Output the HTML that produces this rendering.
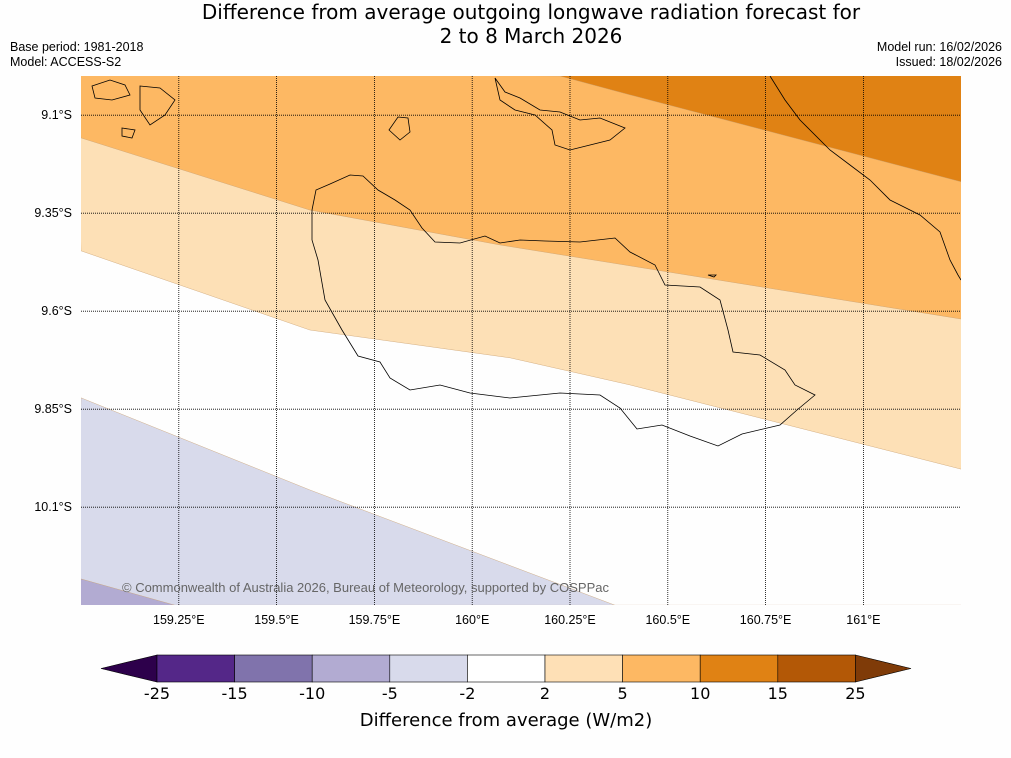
<!DOCTYPE html>
<html><head><meta charset="utf-8"><style>
body{margin:0;background:#fefefe;font-family:"Liberation Sans","DejaVu Sans",sans-serif}
#wrap{position:relative;width:1011px;height:758px;overflow:hidden}
.t{position:absolute;font-size:12px;color:#000}
</style></head><body>
<div id="wrap">
<div class="t" style="left:0;width:1062px;top:0px;text-align:center;font-family:'DejaVu Sans',sans-serif;font-size:20px;line-height:24px">Difference from average outgoing longwave radiation forecast for<br>2 to 8 March 2026</div>
<div class="t" style="left:10px;top:40px;font-size:12.5px">Base period: 1981-2018</div>
<div class="t" style="left:10px;top:55px;font-size:12.5px">Model: ACCESS-S2</div>
<div class="t" style="right:9px;top:40px;text-align:right;font-size:12.5px">Model run: 16/02/2026</div>
<div class="t" style="right:9px;top:55px;text-align:right;font-size:12.5px">Issued: 18/02/2026</div>
<svg id="svg" width="1011" height="758" style="position:absolute;left:0;top:0"></svg>
</div>
<script>
const lonTicks=[159.25,159.5,159.75,160,160.25,160.5,160.75,161];
const latTicks=[9.1,9.35,9.6,9.85,10.1];
const darkLower=[[160.224,9.0],[160.403,9.048],[161.25,9.27]];
const orangeLower=[[159.0,9.158],[159.585,9.342],[160.071,9.431],[161.25,9.62]];
const lightLower=[[159.0,9.446],[159.585,9.648],[160.097,9.719],[160.403,9.788],[161.25,10.003]];
const lavUpper=[[159.0,9.821],[159.585,10.056],[160.365,10.35]];
const purpleUpper=[[159.0,10.283],[159.24,10.35]];
const cbLevels=["-25","-15","-10","-5","-2","2","5","10","15","25"];
const cbColors=["#542788","#8073ac","#b2abd2","#d8daeb","#ffffff","#fee0b6","#fdb863","#e08214","#b35806"];
const ns="http://www.w3.org/2000/svg",svg=document.getElementById('svg');
const X0=81,X1=961,Y0=76,Y1=605;
const xS=lon=>X0+(lon-159)*391.2, yS=lat=>Y0+(lat-9.0)*392;
function el(t,a,p){const e=document.createElementNS(ns,t);for(const k in a)e.setAttribute(k,a[k]);(p||svg).appendChild(e);return e;}
const clip=el('clipPath',{id:'mc'});el('rect',{x:X0,y:Y0,width:X1-X0,height:Y1-Y0},clip);
const g=el('g',{'clip-path':'url(#mc)'});

function region(pts,side,fill,name){
  let d=pts.map((p,i)=>(i?'L':'M')+xS(p[0])+','+yS(p[1])).join(' ');
  const y=side==='top'?Y0-5:Y1+5;
  d+=' L'+(X1+5)+','+(side==='top'?y:yS(pts[pts.length-1][1]))+' L'+(X1+5)+','+y+' L'+(X0-5)+','+y+' Z';
  const e=el('path',{d:d,fill:fill,stroke:'#c9a070','stroke-width':0.4},g);
  
}
region(lightLower,'top','#fde0b6','contour-2-5');
region(orangeLower,'top','#fdb863','contour-5-10');
region(darkLower,'top','#e08214','contour-10-15');
region(lavUpper,'bottom','#d8daeb','contour-neg5-neg2');
region(purpleUpper,'bottom','#b2abd2','contour-neg10-neg5');
const coast=el('path',{d:"M312,210 L316,190 L330,184 L350,175 L363,176 L378,190 L395,200 L410,210 L422,228 L435,242 L460,243 L485,236 L500,243 L520,240 L545,241 L580,242 L615,238 L630,252 L655,265 L665,285 L700,287 L720,300 L728,330 L733,352 L760,355 L785,370 L795,385 L815,395 L797,410 L780,425 L742,434 L718,446 L690,436 L662,425 L637,429 L620,408 L600,395 L560,393 L510,398 L470,393 L440,385 L410,390 L390,378 L380,362 L358,356 L342,330 L325,300 L318,260 L312,240 Z M398,117 L408,118 L410,132 L400,140 L389,130 Z M495,78 L505,92 L520,98 L540,110 L560,112 L580,120 L600,118 L625,128 L610,140 L590,145 L570,150 L555,145 L552,130 L535,115 L515,110 L500,100 Z M770,76 L785,100 L800,120 L830,150 L850,165 L870,180 L890,200 L920,215 L940,232 L950,260 L958,275 L961,280 M92,86 L110,80 L125,85 L130,95 L112,100 L95,98 Z M140,86 L160,88 L175,100 L165,115 L150,125 L140,110 Z M122,128 L135,130 L132,138 L122,136 Z M708,275 L716,275 L714,277 Z",fill:'none',stroke:'#000','stroke-width':0.8},g);

lonTicks.forEach(v=>{const l=el('line',{x1:xS(v),x2:xS(v),y1:Y0,y2:Y1,stroke:'#000','stroke-width':0.8,'stroke-dasharray':'1,1'});

const t=el('text',{x:xS(v),y:624,'text-anchor':'middle','font-size':12.5,fill:'#000'});t.textContent=v+'°E';
});
latTicks.forEach(v=>{const l=el('line',{x1:X0,x2:X1,y1:yS(v),y2:yS(v),stroke:'#000','stroke-width':0.8,'stroke-dasharray':'1,1'});

const t=el('text',{x:72,y:yS(v)+4,'text-anchor':'end','font-size':12.5,fill:'#000'});t.textContent=v+'°S';
});
const cr=el('text',{x:122,y:592,'font-size':13,fill:'#666'});cr.textContent='© Commonwealth of Australia 2026, Bureau of Meteorology, supported by COSPPac';

const cbL=157,cbW=77.6,cbT=655,cbH=27;
const lt=el('path',{d:`M101,${cbT+cbH/2} L${cbL},${cbT} L${cbL},${cbT+cbH} Z`,fill:'#2d004b',stroke:'#000','stroke-width':0.6});

cbColors.forEach((c,i)=>{const r=el('rect',{x:cbL+i*cbW,y:cbT,width:cbW,height:cbH,fill:c,stroke:'#000','stroke-width':0.6});
});
const xe=cbL+cbColors.length*cbW;
const rt=el('path',{d:`M${xe},${cbT} L911,${cbT+cbH/2} L${xe},${cbT+cbH} Z`,fill:'#7f3b08',stroke:'#000','stroke-width':0.6});

cbLevels.forEach((v,i)=>{const t=el('text',{x:cbL+i*cbW,y:699,'text-anchor':'middle','font-size':16,'font-family':'DejaVu Sans, sans-serif',fill:'#000'});t.textContent=v;
});
const ct=el('text',{x:506,y:726,'text-anchor':'middle','font-size':18,'font-family':'DejaVu Sans, sans-serif',fill:'#000'});ct.textContent='Difference from average (W/m2)';

</script>
</body></html>
